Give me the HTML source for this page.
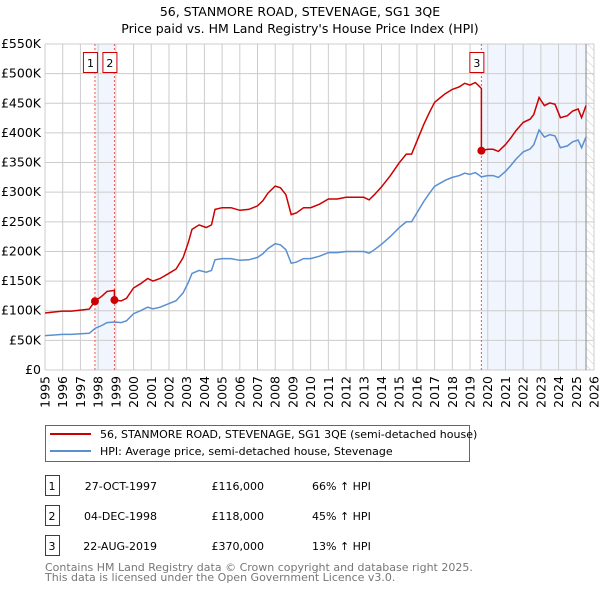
<!DOCTYPE html>
<html><head><meta charset="utf-8"><style>
body{margin:0;background:#fff;}
svg{display:block;font-family:"DejaVu Sans","Liberation Sans",sans-serif;}
</style></head><body>
<svg id="chart" width="600" height="590" viewBox="0 0 600 590">
<defs>
<pattern id="hatch" width="6" height="6" patternUnits="userSpaceOnUse" patternTransform="rotate(-45)">
<line x1="0" y1="0" x2="0" y2="6" stroke="#ccc" stroke-width="1"/>
</pattern>
</defs>
<text x="300" y="16" text-anchor="middle" font-size="12.5" fill="#000">56, STANMORE ROAD, STEVENAGE, SG1 3QE</text>
<text x="300" y="33" text-anchor="middle" font-size="12.5" fill="#000">Price paid vs. HM Land Registry's House Price Index (HPI)</text>
<g id="plot"></g>
<g>
<rect x="45.5" y="425.5" width="424" height="36" fill="#fff" stroke="#666"/>
<line x1="50" y1="434" x2="91" y2="434" stroke="#cc0000" stroke-width="2"/>
<text x="100" y="438" font-size="11">56, STANMORE ROAD, STEVENAGE, SG1 3QE (semi-detached house)</text>
<line x1="50" y1="451" x2="91" y2="451" stroke="#5b8fd0" stroke-width="2"/>
<text x="100" y="455" font-size="11">HPI: Average price, semi-detached house, Stevenage</text>
</g>
<g id="table" font-size="11"></g>
<text x="45" y="571" font-size="11" fill="#777">Contains HM Land Registry data © Crown copyright and database right 2025.</text>
<text x="45" y="581" font-size="11" fill="#777">This data is licensed under the Open Government Licence v3.0.</text>
</svg>
<script>
const hpiYears = [1995,1995.5,1996,1996.5,1997,1997.5,1997.82,1998.2,1998.5,1998.92,1999.3,1999.6,2000,2000.4,2000.8,2001.1,2001.5,2002,2002.4,2002.8,2003.1,2003.3,2003.7,2004.1,2004.4,2004.6,2005,2005.5,2006,2006.5,2007,2007.3,2007.6,2008,2008.3,2008.6,2008.9,2009.2,2009.6,2010,2010.5,2011,2011.5,2012,2012.5,2013,2013.3,2013.6,2014,2014.5,2015,2015.4,2015.7,2016,2016.4,2016.7,2017,2017.3,2017.6,2018,2018.4,2018.7,2019,2019.3,2019.5,2019.64,2020,2020.3,2020.6,2021,2021.3,2021.6,2022,2022.4,2022.6,2022.9,2023.2,2023.5,2023.8,2024.1,2024.5,2024.8,2025.1,2025.3,2025.55];
const hpiValues = [58,59,60,60,61,62,70,75,80,81,80,83,95,100,106,103,106,112,117,130,148,163,168,165,168,186,188,188,185,186,190,196,205,213,211,203,180,182,188,188,192,198,198,200,200,200,197,203,212,225,240,250,250,265,285,298,310,315,320,325,328,332,330,333,329,326,328,328,325,335,345,356,368,373,380,405,393,397,395,375,378,385,388,375,393];
const saleYears = [1997.82,1998.92,2019.64];
const salePrices = [116000,118000,370000];
const saleDates = ["27-OCT-1997","04-DEC-1998","22-AUG-2019"];
const salePriceLabels = ["£116,000","£118,000","£370,000"];
const saleHpiLabels = ["66% ↑ HPI","45% ↑ HPI","13% ↑ HPI"];
const yTicks = [0,50,100,150,200,250,300,350,400,450,500,550];
const yTickLabels = ["£0","£50K","£100K","£150K","£200K","£250K","£300K","£350K","£400K","£450K","£500K","£550K"];
const xTicks = [1995,1996,1997,1998,1999,2000,2001,2002,2003,2004,2005,2006,2007,2008,2009,2010,2011,2012,2013,2014,2015,2016,2017,2018,2019,2020,2021,2022,2023,2024,2025,2026];

const NS="http://www.w3.org/2000/svg";
const L=45,R=594,T=44,B=370,X0=1995,X1=2026,YMAX=550;
const sx=v=>L+(v-X0)/(X1-X0)*(R-L);
const sy=v=>B-v/YMAX*(B-T);
const plot=document.getElementById('plot');
function mk(tag,attrs,parent){const e=document.createElementNS(NS,tag);for(const k in attrs)e.setAttribute(k,attrs[k]);(parent||plot).appendChild(e);return e;}

// shaded regions
let e=mk('rect',{x:sx(saleYears[0]),y:T,width:sx(saleYears[1])-sx(saleYears[0]),height:B-T,fill:'#eef3fc',opacity:0.8});


e=mk('rect',{x:sx(saleYears[2]),y:T,width:sx(2025.55)-sx(saleYears[2]),height:B-T,fill:'#eef3fc',opacity:0.8});


e=mk('rect',{x:sx(2025.55),y:T,width:R-sx(2025.55),height:B-T,fill:'url(#hatch)'});



// grid
yTicks.forEach((t,i)=>{
  const g=mk('line',{x1:L,x2:R,y1:sy(t),y2:sy(t),stroke:'#ccc','stroke-width':1});
  
  
  const tx=mk('text',{x:L-4,y:sy(t)+4,'text-anchor':'end','font-size':12.5,fill:'#000'});
  tx.textContent=yTickLabels[i];
  
  
});
xTicks.forEach(t=>{
  const g=mk('line',{x1:sx(t),x2:sx(t),y1:T,y2:B,stroke:'#ccc','stroke-width':1});
  
  
  const tx=mk('text',{transform:`translate(${sx(t)+4.5},${B+6}) rotate(-90)`,'text-anchor':'end','font-size':12.5,fill:'#000'});
  tx.textContent=t;
  
  
});
e=mk('line',{x1:sx(2025.55),x2:sx(2025.55),y1:T,y2:B,stroke:'#888','stroke-width':1});



// sale vlines
saleYears.forEach((s,i)=>{
  const v=mk('line',{x1:sx(s),x2:sx(s),y1:T,y2:B,stroke:'#e55','stroke-width':1,'stroke-dasharray':'2,2'});
  
  
});

function hpiAt(y){
  for(let i=0;i<hpiYears.length-1;i++){if(y>=hpiYears[i]&&y<=hpiYears[i+1]){const f=(y-hpiYears[i])/(hpiYears[i+1]-hpiYears[i]);return hpiValues[i]+f*(hpiValues[i+1]-hpiValues[i]);}}
  return hpiValues[hpiValues.length-1];
}
// HPI line
let d=hpiYears.map((y,i)=>(i?'L':'M')+sx(y).toFixed(1)+','+sy(hpiValues[i]).toFixed(1)).join('');
e=mk('path',{d:d,fill:'none',stroke:'#5b8fd0','stroke-width':1.5});


// property line: indexed from sales
function ratioFor(y){let k=0;for(let i=0;i<saleYears.length;i++)if(y>=saleYears[i])k=i;return salePrices[k]/1000/hpiAt(saleYears[k]);}
let pts=[];
hpiYears.forEach((y,i)=>{
  saleYears.forEach((s,k)=>{if(k>0&&i>0&&hpiYears[i-1]<s&&y>=s){pts.push([s,hpiAt(s)*salePrices[k-1]/1000/hpiAt(saleYears[k-1])]);pts.push([s,salePrices[k]/1000]);}});
  pts.push([y,hpiValues[i]*ratioFor(y)]);
});
d=pts.map((p,i)=>(i?'L':'M')+sx(p[0]).toFixed(1)+','+sy(p[1]).toFixed(1)).join('');
e=mk('path',{d:d,fill:'none',stroke:'#cc0000','stroke-width':1.5});



saleYears.forEach((s,i)=>{
  const c=mk('circle',{cx:sx(s),cy:sy(salePrices[i]/1000),r:4,fill:'#cc0000'});
  
  
  const bx=mk('rect',{x:sx(s)-11.5,y:52.5,width:14,height:20,fill:'#fff',stroke:'#cc0000'});
  
  
  const t=mk('text',{x:sx(s)-4.5,y:67,'text-anchor':'middle','font-size':11});
  t.textContent=i+1;
  
  
});

// table
const tb=document.getElementById('table');
saleYears.forEach((s,i)=>{
  const y0=475+i*30;
  const bx=mk('rect',{x:45.5,y:y0+0.5,width:14,height:20,fill:'#fff',stroke:'#cc0000'},tb);
  
  
  const cells=[[52,'middle',String(i+1),'table-row-number'],[157,'end',saleDates[i],'table-sale-date'],[264,'end',salePriceLabels[i],'table-sale-price'],[312,'start',saleHpiLabels[i],'table-hpi-diff']];
  cells.forEach(c=>{
    const t=mk('text',{x:c[0],y:y0+15,'text-anchor':c[1]},tb);
    t.textContent=c[2];
    
    
  });
});
</script>
</body></html>
